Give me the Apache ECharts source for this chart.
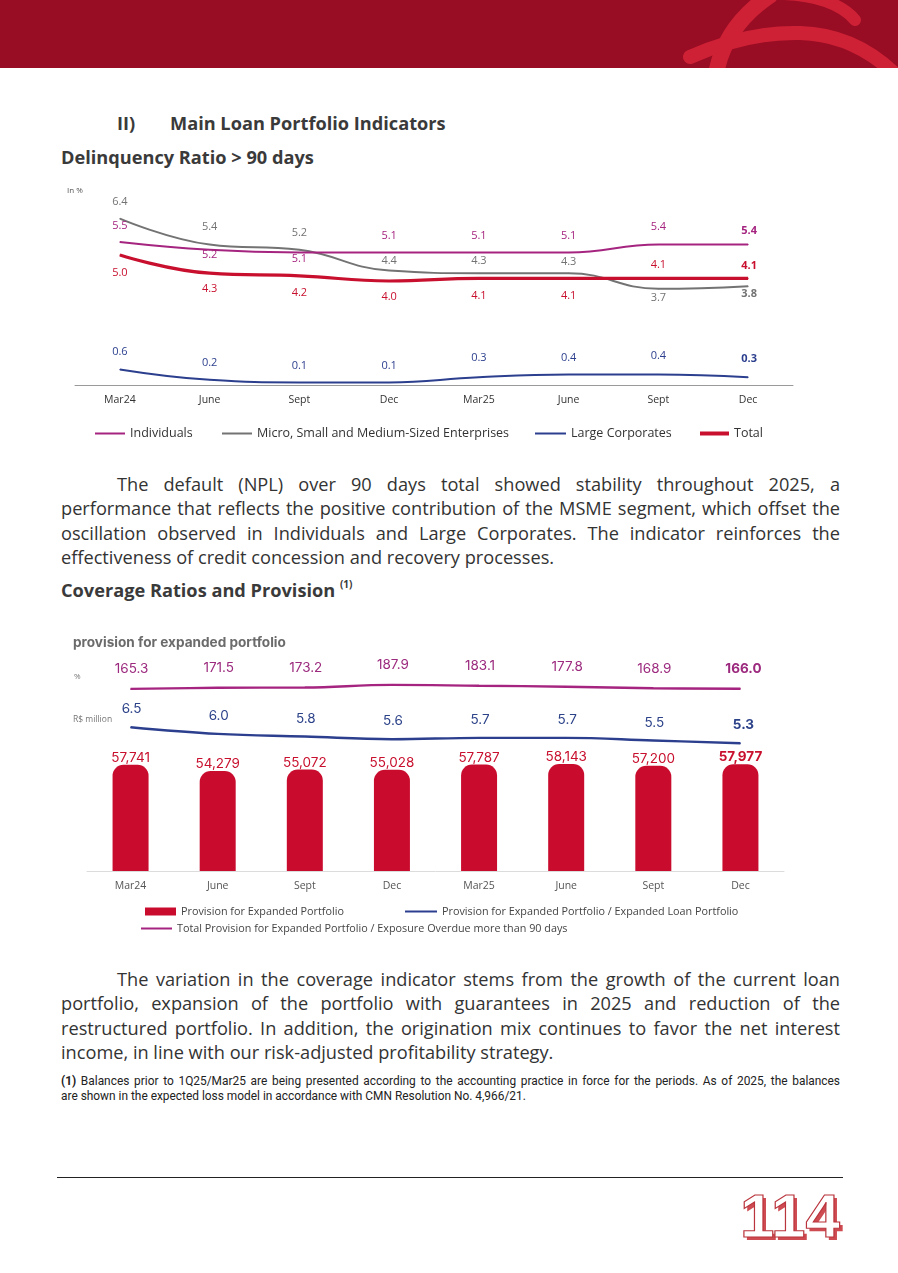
<!DOCTYPE html>
<html>
<head>
<meta charset="utf-8">
<script src="https://cdn.jsdelivr.net/npm/echarts/dist/echarts.min.js"></script>
<style>
  html, body { margin:0; padding:0; background:#fff; }
  #page { position:relative; width:898px; height:1273px; overflow:hidden; font-family:"Open Sans", sans-serif; color:#333; }
  .abs { position:absolute; }
  .h1 { font-weight:700; font-size:18.2px; line-height:24px; color:#3a3a3a; white-space:nowrap; }
  .para { position:absolute; left:61px; width:779px; font-size:18.2px; color:#333; }
  .para div { height:24.3px; line-height:24.3px; white-space:nowrap; overflow:visible; }
  .jl { text-align:justify; text-align-last:justify; white-space:normal !important; }
  .ind { margin-left:56px; }
  .foot { position:absolute; left:61px; width:779px; font-family:Roboto, sans-serif; font-weight:400; font-size:11.9px; line-height:15px; color:#222; }
  .foot div { height:15px; white-space:nowrap; }
  #num { position:absolute; left:740px; top:1180px; font-family:"Liberation Sans", Arial, sans-serif; font-weight:700; font-size:62px; line-height:72px; color:#fff; -webkit-text-stroke:1.2px #b9343c; text-shadow:3px 3px 0 #cf4b52; letter-spacing:0px; }
</style>
</head>
<body>
<div id="page">
  <svg class="abs" style="left:0;top:0" width="898" height="68">
    <rect x="0" y="0" width="898" height="68" fill="#980d23"/>
    <path d="M716 74 C 722 40, 742 14, 772 -6" stroke="#cf2136" stroke-width="16" fill="none"/>
    <path d="M784 -6 C 815 -5, 842 4, 855 20" stroke="#cf2136" stroke-width="12" fill="none" stroke-linecap="round"/>
    <path d="M690 57 C 728 40, 762 32, 800 33 C 840 34, 870 50, 895 74" stroke="#cf2136" stroke-width="14" fill="none" stroke-linecap="round"/>
  </svg>

  <div class="abs h1" style="left:117px;top:111px;">II)</div>
  <div class="abs h1" style="left:170px;top:111px;">Main Loan Portfolio Indicators</div>
  <div class="abs h1" style="left:61px;top:145px;">Delinquency Ratio &gt; 90 days</div>

  <div id="c1" class="abs" style="left:0;top:180px;width:898px;height:270px;"></div>

  <div class="para" style="top:472px;">
    <div class="jl ind">The default (NPL) over 90 days total showed stability throughout 2025, a</div>
    <div class="jl">performance that reflects the positive contribution of the MSME segment, which offset the</div>
    <div class="jl">oscillation observed in Individuals and Large Corporates. The indicator reinforces the</div>
    <div>effectiveness of credit concession and recovery processes.</div>
  </div>

  <div class="abs h1" style="left:61px;top:578px;">Coverage Ratios and Provision <sup style="font-size:10px;line-height:0;position:relative;top:-2px;">(1)</sup></div>

  <div id="c2" class="abs" style="left:0;top:620px;width:898px;height:330px;"></div>

  <div class="para" style="top:967px;">
    <div class="jl ind">The variation in the coverage indicator stems from the growth of the current loan</div>
    <div class="jl">portfolio, expansion of the portfolio with guarantees in 2025 and reduction of the</div>
    <div class="jl">restructured portfolio. In addition, the origination mix continues to favor the net interest</div>
    <div>income, in line with our risk-adjusted profitability strategy.</div>
  </div>

  <div class="foot" style="top:1074px;">
    <div class="jl"><b>(1)</b> Balances prior to 1Q25/Mar25 are being presented according to the accounting practice in force for the periods. As of 2025, the balances</div>
    <div>are shown in the expected loss model in accordance with CMN Resolution No. 4,966/21.</div>
  </div>

  <div class="abs" style="left:57px;top:1177px;width:786px;height:1px;background:#222;"></div>
  <div id="num">114</div>
</div>

<script>
// ---------- data ----------
const categories = ['Mar24', 'June', 'Sept', 'Dec', 'Mar25', 'June', 'Sept', 'Dec'];

const individuals = [5.5, 5.2, 5.1, 5.1, 5.1, 5.1, 5.4, 5.4];
const msme        = [6.4, 5.4, 5.2, 4.4, 4.3, 4.3, 3.7, 3.8];
const largeCorp   = [0.6, 0.2, 0.1, 0.1, 0.3, 0.4, 0.4, 0.3];
const total       = [5.0, 4.3, 4.2, 4.0, 4.1, 4.1, 4.1, 4.1];

const provision      = [57741, 54279, 55072, 55028, 57787, 58143, 57200, 57977];
const provisionRatio = [6.5, 6.0, 5.8, 5.6, 5.7, 5.7, 5.5, 5.3];
const coverage       = [165.3, 171.5, 173.2, 187.9, 183.1, 177.8, 168.9, 166.0];

// ---------- label placement (vertical offset of each value label, px) ----------
const offIndividuals = [-16, 5, 6.5, -17, -17, -17, -17.5, -13.5];
const offMsme        = [-16.5, -17.5, -17, -10, -12.5, -11, 9.5, 7.5];
const offTotal       = [18, 16, 17.5, 16.3, 17, 17, -13.4, -12.7];
const offLarge       = [-18, -17, -16.4, -16.4, -19, -16.6, -19, -18];

const FONT = 'Open Sans';
const last = categories.length - 1;

function lineData(values, offs, color, size, fmt) {
  return values.map((v, i) => ({
    value: v,
    label: {
      show: true, position: 'inside', offset: [i === last ? 1 : 0, offs[i]],
      color: color, fontSize: size, fontFamily: FONT,
      fontWeight: i === last ? 'bold' : 'normal',
      formatter: () => fmt(v)
    }
  }));
}
const f1 = v => v.toFixed(1);

// ---------- chart 1 ----------
const C_IND = '#a5247f', C_MSME = '#737373', C_LARGE = '#2c3f8e', C_TOTAL = '#c8102e';
function lineSeries(name, values, offs, color, width, z) {
  return {
    name, type: 'line', data: lineData(values, offs, color, 11, f1),
    smooth: 0.45, symbol: 'circle', symbolSize: 1, color: color,
    lineStyle: { width: width, color: color }, z: z,
    emphasis: { disabled: true }
  };
}
function legendItem(name, left, top, w, h, textGap, fontSize, color) {
  return {
    data: [name], left: left, top: top, icon: 'rect', itemWidth: w, itemHeight: h,
    itemGap: 0, itemTextGap: textGap, selectedMode: false, padding: 0,
    textStyle: { fontFamily: FONT, fontSize: fontSize, color: color || '#333' }
  };
}
const chart1 = echarts.init(document.getElementById('c1'), null, { renderer: 'canvas' });
chart1.setOption({
  animation: false,
  graphic: [{ type: 'text', left: 67, top: 7, style: { text: 'In %', fontSize: 8, fontFamily: FONT, fill: '#555' } }],
  grid: { left: 75, top: 23, width: 718, height: 182 },
  xAxis: {
    type: 'category', data: categories, boundaryGap: true,
    axisLine: { lineStyle: { color: '#9a9a9a', width: 1 } }, axisTick: { show: false },
    axisLabel: { color: '#333', fontSize: 10.5, fontFamily: FONT, margin: 10 }
  },
  yAxis: { type: 'value', min: 0, max: 7, show: false },
  legend: [
    legendItem('Individuals', 95, 247, 30, 2, 2, 12.5),
    legendItem('Micro, Small and Medium-Sized Enterprises', 222, 247, 30, 2, 2, 12.5),
    legendItem('Large Corporates', 535, 247, 31, 2, 2, 12.5),
    legendItem('Total', 700, 247, 29, 4, 2, 12.5)
  ],
  series: [
    lineSeries('Individuals', individuals, offIndividuals, C_IND, 2, 3),
    lineSeries('Micro, Small and Medium-Sized Enterprises', msme, offMsme, C_MSME, 2, 2),
    lineSeries('Large Corporates', largeCorp, offLarge, C_LARGE, 2, 2),
    lineSeries('Total', total, offTotal, C_TOTAL, 3.2, 4)
  ]
});

// ---------- chart 2 ----------
const C_BAR = '#c90c2e', C_RATIO = '#2c3f8e', C_COV = '#a5247f';
const chart2 = echarts.init(document.getElementById('c2'), null, { renderer: 'canvas' });
const ratioOffs = provisionRatio.map(() => -18);
const covOffs = coverage.map(() => -19.5);
function lineData2(values, offs, color, fmt) {
  return values.map((v, i) => ({
    value: v,
    label: {
      show: true, position: 'inside', offset: [i === last ? 3 : 1, offs[i]],
      color: color, fontSize: 13.5, fontFamily: 'Inter',
      fontWeight: i === last ? 'bold' : 'normal',
      formatter: () => fmt(v)
    }
  }));
}
const legText = { fontFamily: FONT, fontSize: 10.8, color: '#444' };
chart2.setOption({
  animation: false,
  graphic: [
    { type: 'text', left: 73, top: 16, style: { text: 'provision for expanded portfolio', fontSize: 13.6, fontWeight: 'bold', fontFamily: 'Inter', fill: '#6b6b6b' } },
    { type: 'text', left: 74, top: 53, style: { text: '%', fontSize: 8, fontFamily: FONT, fill: '#777' } },
    { type: 'text', left: 73, top: 95, style: { text: 'R$ million', fontSize: 8.5, fontFamily: FONT, fill: '#777' } }
  ],
  grid: { left: 87, top: 30, width: 697, height: 221 },
  xAxis: {
    type: 'category', data: categories, boundaryGap: true,
    axisLine: { lineStyle: { color: '#dcdcdc', width: 1 } }, axisTick: { show: false },
    axisLabel: { color: '#555', fontSize: 10.5, fontFamily: FONT, margin: 10 }
  },
  yAxis: [
    { type: 'value', min: 0, max: 120000, show: false },
    { type: 'value', min: -4.3, max: 12.3, show: false },
    { type: 'value', min: -863, max: 385, show: false }
  ],
  legend: [
    { data: ['Provision for Expanded Portfolio'], left: 145, top: 286, padding: 0, icon: 'rect', itemWidth: 31, itemHeight: 8, itemTextGap: 4, selectedMode: false, textStyle: legText },
    { data: ['Provision for Expanded Portfolio / Expanded Loan Portfolio'], left: 405, top: 286, padding: 0, icon: 'rect', itemWidth: 32, itemHeight: 2, itemTextGap: 4, selectedMode: false, textStyle: legText },
    { data: ['Total Provision for Expanded Portfolio / Exposure Overdue more than 90 days'], left: 141, top: 303, padding: 0, icon: 'rect', itemWidth: 31, itemHeight: 2, itemTextGap: 4, selectedMode: false, textStyle: legText }
  ],
  series: [
    {
      name: 'Provision for Expanded Portfolio', type: 'bar', yAxisIndex: 0, barWidth: 36, color: C_BAR,
      itemStyle: { color: C_BAR, borderRadius: [11, 11, 0, 0] },
      data: provision.map((v, i) => ({
        value: v,
        label: { show: true, position: 'top', distance: 0, color: '#c8102e', fontSize: 13.5, fontFamily: 'Inter',
          fontWeight: i === last ? 'bold' : 'normal', formatter: () => v.toLocaleString('en-US') }
      })),
      emphasis: { disabled: true }
    },
    {
      name: 'Provision for Expanded Portfolio / Expanded Loan Portfolio', type: 'line', yAxisIndex: 1,
      data: lineData2(provisionRatio, ratioOffs, '#2c4289', f1), smooth: 0.4, symbol: 'circle', symbolSize: 1,
      color: C_RATIO, lineStyle: { width: 2.4, color: C_RATIO }, emphasis: { disabled: true }
    },
    {
      name: 'Total Provision for Expanded Portfolio / Exposure Overdue more than 90 days', type: 'line', yAxisIndex: 2,
      data: lineData2(coverage, covOffs, '#9c2a7e', f1), smooth: 0.4, symbol: 'circle', symbolSize: 1,
      color: C_COV, lineStyle: { width: 2.4, color: C_COV }, emphasis: { disabled: true }
    }
  ]
});
</script>
</body>
</html>
